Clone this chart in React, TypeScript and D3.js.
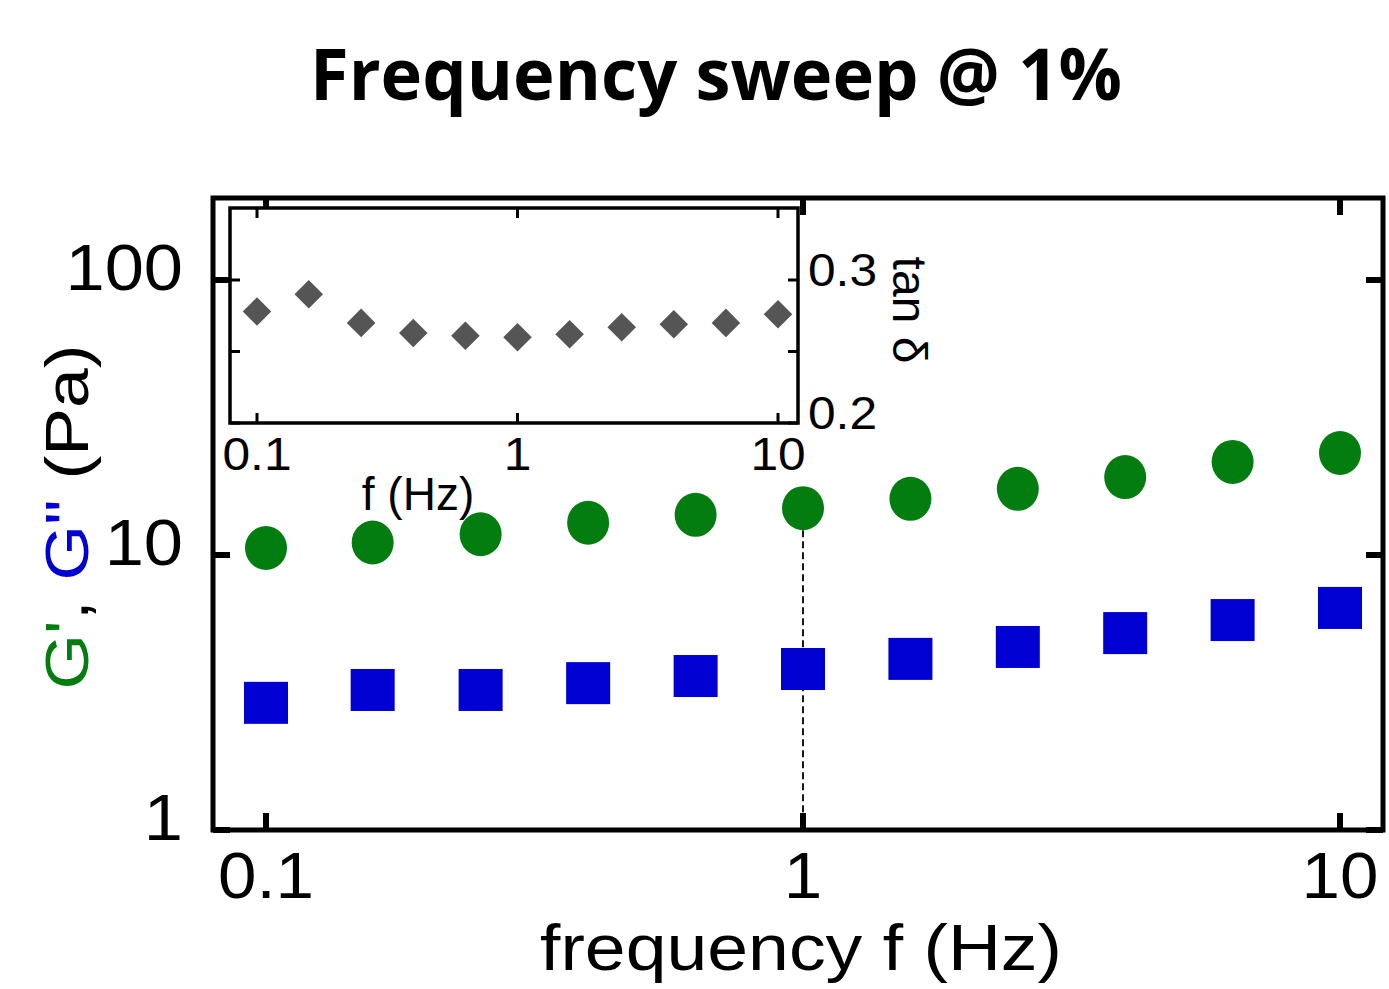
import React from 'react';
import * as d3 from 'd3';

// frequencies (Hz), 11 points over two decades
const freq = [0.1, 0.158, 0.251, 0.398, 0.631, 1, 1.585, 2.512, 3.981, 6.31, 10];
// storage modulus G' (Pa)
const gPrime = [10.6, 11.1, 11.9, 13.1, 14.0, 14.8, 16.0, 17.4, 19.2, 21.8, 23.5];
// loss modulus G'' (Pa)
const gDouble = [2.9, 3.23, 3.23, 3.42, 3.63, 3.85, 4.19, 4.63, 5.2, 5.8, 6.42];
// tan delta (inset)
const tanDelta = [0.278, 0.290, 0.270, 0.263, 0.261, 0.260, 0.262, 0.267, 0.269, 0.270, 0.276];

const xTicks = [0.1, 1, 10];
const xTickLabels = ['0.1', '1', '10'];
const yTicks = [1, 10, 100];
const yTickLabels = ['1', '10', '100'];
const insetYTicks = [0.2, 0.25, 0.3];
const insetYLabels = ['0.2', '', '0.3'];

const W = 1389;
const H = 989;
const font = '"Liberation Sans", Arial, sans-serif';

const App = () => {
  // main plot frame
  const frame = { left: 213, right: 1383, top: 198, bottom: 830 };
  const x = d3.scaleLog().domain([0.1, 10]).range([266, 1340]);
  const y = d3.scaleLog().domain([1, 100]).range([830, 280]);

  // inset frame
  const inset = { left: 230, right: 798, top: 208, bottom: 423 };
  const xi = d3.scaleLog().domain([0.1, 10]).range([257, 778]);
  const yi = d3.scaleLinear().domain([0.2, 0.3]).range([423, 280]);

  const tick = 17;
  const itick = 10;
  const diamond = d3.symbol().type(d3.symbolDiamond2).size(520)();

  return (
    <svg width={W} height={H} style={{ position: 'absolute', left: 0, top: 0, background: '#fff' }}>
      {/* title */}
      <text x={716} y={100} textAnchor="middle" fontFamily='"Open Sans", sans-serif' fontWeight={700}
        fontSize={72} textLength={812} lengthAdjust="spacingAndGlyphs">Frequency sweep @ 1%</text>

      {/* dashed guide at 1 Hz */}
      <line x1={x(1)} x2={x(1)} y1={y(gPrime[5])} y2={frame.bottom} stroke="#000" strokeWidth={1.8}
        strokeDasharray="7,4" />

      {/* G' circles */}
      {freq.map((f, i) => (
        <ellipse key={'gp' + i} cx={x(f)} cy={y(gPrime[i])} rx={21} ry={22} fill="#037d10" />
      ))}
      {/* G'' squares */}
      {freq.map((f, i) => (
        <rect key={'gd' + i} x={x(f) - 22} y={y(gDouble[i]) - 21} width={44} height={42} fill="#0000d2" />
      ))}

      {/* main frame */}
      <rect x={frame.left} y={frame.top} width={frame.right - frame.left} height={frame.bottom - frame.top}
        fill="none" stroke="#000" strokeWidth={5} />
      {xTicks.map((t, i) => (
        <g key={'xt' + i}>
          <line x1={x(t)} x2={x(t)} y1={frame.bottom} y2={frame.bottom - tick} stroke="#000" strokeWidth={6} />
          <line x1={x(t)} x2={x(t)} y1={frame.top} y2={frame.top + tick} stroke="#000" strokeWidth={6} />
          <text transform={`translate(${x(t)},898) scale(1.08,1)`} textAnchor="middle" fontFamily={font}
            fontSize={64}>{xTickLabels[i]}</text>
        </g>
      ))}
      {yTicks.map((t, i) => (
        <g key={'yt' + i}>
          <line x1={frame.left} x2={frame.left + tick} y1={y(t)} y2={y(t)} stroke="#000" strokeWidth={6} />
          <line x1={frame.right} x2={frame.right - tick} y1={y(t)} y2={y(t)} stroke="#000" strokeWidth={6} />
          <text transform={`translate(183,${y(t) + 10}) scale(1.1,1)`} textAnchor="end" fontFamily={font}
            fontSize={64}>{yTickLabels[i]}</text>
        </g>
      ))}

      {/* axis labels */}
      <text x={801} y={970} textAnchor="middle" fontFamily={font} fontSize={64} textLength={522}
        lengthAdjust="spacingAndGlyphs">frequency f (Hz)</text>
      <text transform="translate(88,517) rotate(-90)" textAnchor="middle" fontFamily={font} fontSize={62}
        textLength={345} lengthAdjust="spacingAndGlyphs">
        <tspan fill="#037d10">G'</tspan><tspan fill="#000">, </tspan><tspan fill="#0000d2">G"</tspan>
        <tspan fill="#000"> (Pa)</tspan>
      </text>

      {/* inset */}
      <rect x={inset.left} y={inset.top} width={inset.right - inset.left} height={inset.bottom - inset.top}
        fill="#fff" stroke="none" />
      {freq.map((f, i) => (
        <path key={'td' + i} d={diamond} transform={`translate(${xi(f)},${yi(tanDelta[i])})`} fill="#555" />
      ))}
      <rect x={inset.left} y={inset.top} width={inset.right - inset.left} height={inset.bottom - inset.top}
        fill="none" stroke="#000" strokeWidth={3.5} />
      {xTicks.map((t, i) => (
        <g key={'ixt' + i}>
          <line x1={xi(t)} x2={xi(t)} y1={inset.bottom} y2={inset.bottom - itick} stroke="#000" strokeWidth={3} />
          <line x1={xi(t)} x2={xi(t)} y1={inset.top} y2={inset.top + itick} stroke="#000" strokeWidth={3} />
          <text transform={`translate(${xi(t)},470) scale(1.08,1)`} textAnchor="middle" fontFamily={font}
            fontSize={46}>{xTickLabels[i]}</text>
        </g>
      ))}
      {insetYTicks.map((t, i) => (
        <g key={'iyt' + i}>
          <line x1={inset.left} x2={inset.left + itick} y1={yi(t)} y2={yi(t)} stroke="#000" strokeWidth={3} />
          <line x1={inset.right} x2={inset.right - itick} y1={yi(t)} y2={yi(t)} stroke="#000" strokeWidth={3} />
          <text transform={`translate(808,${yi(t) + 6}) scale(1.08,1)`} textAnchor="start" fontFamily={font}
            fontSize={46}>{insetYLabels[i]}</text>
        </g>
      ))}
      <text x={418} y={510} textAnchor="middle" fontFamily={font} fontSize={46}>f (Hz)</text>
      <text transform="translate(893,310) rotate(90)" textAnchor="middle" fontFamily={font} fontSize={48}>
        tan δ
      </text>
    </svg>
  );
};

export default App;
